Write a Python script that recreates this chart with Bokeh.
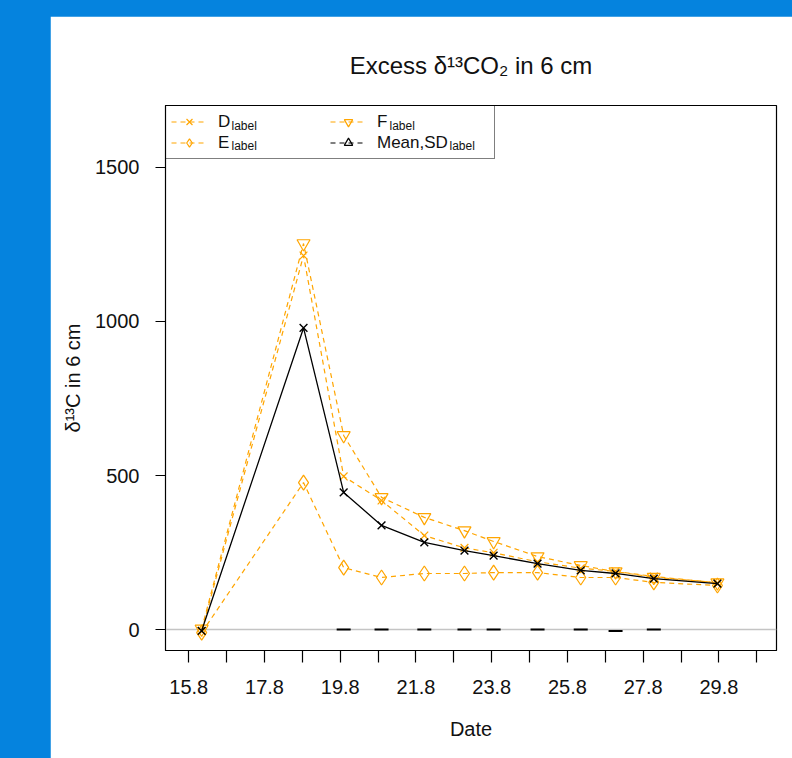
from bokeh.plotting import figure
from bokeh.models import Range1d, FixedTicker, Span, Legend, LegendItem, Label, ColumnDataSource
from bokeh.embed import file_html
from bokeh.resources import INLINE

# ---- data (day of August) ----
dates = [15.34, 18.03, 19.09, 20.09, 21.22, 22.28, 23.05, 24.21, 25.35, 26.27, 27.28, 28.96]
d_vals = [-5, 1214, 497, 419, 305, 265, 249, 220, 199, 189, 172, 152]
e_vals = [-10, 477, 201, 169, 182, 182, 185, 185, 169, 169, 153, 143]
f_vals = [2, 1253, 630, 429, 364, 321, 286, 237, 208, 188, 170, 152]
mean_vals = [-4, 979, 445, 338, 283, 256, 240, 214, 192, 182, 165, 149]
sd_dates = [19.09, 20.09, 21.22, 22.28, 23.05, 24.21, 25.35, 26.27, 27.28]
sd_vals = [0, 0, 0, 0, 0, 0, 0, -5, 0]
x_ticks = [15, 16, 17, 18, 19, 20, 21, 22, 23, 24, 25, 26, 27, 28, 29, 30]
x_tick_labels = ["15.8", "", "17.8", "", "19.8", "", "21.8", "", "23.8", "", "25.8", "", "27.8", "", "29.8", ""]
y_ticks = [0, 500, 1000, 1500]
legend_names = ["D", "E", "F", "Mean,SD"]

FONT = "Liberation Sans"
ORANGE = "#FFA500"

p = figure(width=742, height=742, x_range=Range1d(14.385, 30.52), y_range=Range1d(-68, 1701),
           output_backend="svg", toolbar_location=None,
           min_border_left=115, min_border_right=16, min_border_top=89, min_border_bottom=108)
p.background_fill_color = "white"
p.border_fill_color = "white"
p.outline_line_color = "black"
p.outline_line_width = 1.2
p.xgrid.visible = False
p.ygrid.visible = False

p.title.text = "Excess δ¹³CO₂ in 6 cm"
p.title.align = "center"
p.title.text_font = FONT
p.title.text_font_size = "24px"
p.title.text_font_style = "normal"
p.title.text_color = "#111111"
p.title.standoff = 54

for ax in (p.xaxis[0], p.yaxis[0]):
    ax.axis_line_color = "black"
    ax.major_tick_line_color = "black"
    ax.major_tick_line_width = 1.2
    ax.major_tick_in = 0
    ax.minor_tick_line_color = None
    ax.major_label_text_font = FONT
    ax.major_label_text_font_size = "20px"
    ax.major_label_text_color = "#111111"
    ax.axis_label_text_font = FONT
    ax.axis_label_text_font_size = "20px"
    ax.axis_label_text_font_style = "normal"
    ax.axis_label_text_color = "#111111"

p.xaxis.ticker = FixedTicker(ticks=x_ticks)
p.xaxis.major_label_overrides = {t: l for t, l in zip(x_ticks, x_tick_labels)}
p.xaxis.major_tick_out = 12
p.xaxis.major_label_standoff = 17
p.xaxis.axis_label = "Date"
p.xaxis.axis_label_standoff = 21

p.yaxis.ticker = FixedTicker(ticks=y_ticks)
p.yaxis.major_tick_out = 10
p.yaxis.major_label_standoff = 16
p.yaxis.axis_label = "δ¹³C in 6 cm"
p.yaxis.axis_label_standoff = 8

p.add_layout(Span(location=0, dimension="width", line_color="#C4C4C4", line_width=1.5, level="underlay"))

dash = "5 4"
src = ColumnDataSource(dict(x=dates, d=d_vals, e=e_vals, f=f_vals, m=mean_vals))
dl = p.line("x", "d", source=src, line_color=ORANGE, line_width=1.2, line_dash=dash)
ds = p.scatter("x", "d", source=src, marker="x", size=11, line_color=ORANGE, line_width=1.2)
el = p.line("x", "e", source=src, line_color=ORANGE, line_width=1.2, line_dash=dash)
es = p.scatter("x", "e", source=src, marker="diamond", size=15, line_color=ORANGE, line_width=1.2, fill_color=None)
fl = p.line("x", "f", source=src, line_color=ORANGE, line_width=1.2, line_dash=dash)
fs = p.scatter("x", "f", source=src, marker="inverted_triangle", size=13, line_color=ORANGE, line_width=1.2, fill_color=None)
p.line("x", "m", source=src, line_color="black", line_width=1.3)
p.scatter("x", "m", source=src, marker="x", size=11, line_color="black", line_width=1.4)
p.scatter(sd_dates, sd_vals, marker="dash", size=14, line_color="black", line_width=2)

# legend-only proxy (not drawn in the plot area) for the Mean,SD key
leg_src = ColumnDataSource(dict(x=[float("nan")], y=[float("nan")]))
ml = p.line("x", "y", source=leg_src, line_color="black", line_width=1.2, line_dash=dash)
ms = p.scatter("x", "y", source=leg_src, marker="triangle", size=12, line_color="black", line_width=1.2, fill_color=None)

legend = Legend(items=[LegendItem(label=legend_names[0], renderers=[dl, ds]),
                       LegendItem(label=legend_names[1], renderers=[el, es]),
                       LegendItem(label=legend_names[2], renderers=[fl, fs]),
                       LegendItem(label=legend_names[3], renderers=[ml, ms])],
                location="top_left", ncols=2, margin=0, padding=5, spacing=0,
                glyph_width=36, glyph_height=21, label_height=21, label_width=112, label_standoff=11,
                label_text_font=FONT, label_text_font_size="17px", label_text_color="#111111",
                border_line_color="black", border_line_width=1.2, background_fill_color="white",
                background_fill_alpha=0)
p.add_layout(legend)

# small "label" subscripts after each legend name (screen units, frame-relative)
subs = [(66, 525), (66, 505), (224, 525), (284, 505)]
for sx, sy in subs:
    p.add_layout(Label(x=sx, y=sy, x_units="screen", y_units="screen", text="label",
                       text_font=FONT, text_font_size="12px", text_color="#111111",
                       text_baseline="alphabetic"))

html = file_html(p, INLINE, title="Excess d13CO2")
style = ("<style>html{background:#0583DE !important;margin:0 !important;padding:0 !important;}"
         "body{background:#0583DE !important;margin:0 !important;padding:16px 0 0 50px !important;"
         "overflow:hidden !important;}</style>")
html = html.replace("</head>", style + "</head>", 1)
open("out.html", "w").write(html)
